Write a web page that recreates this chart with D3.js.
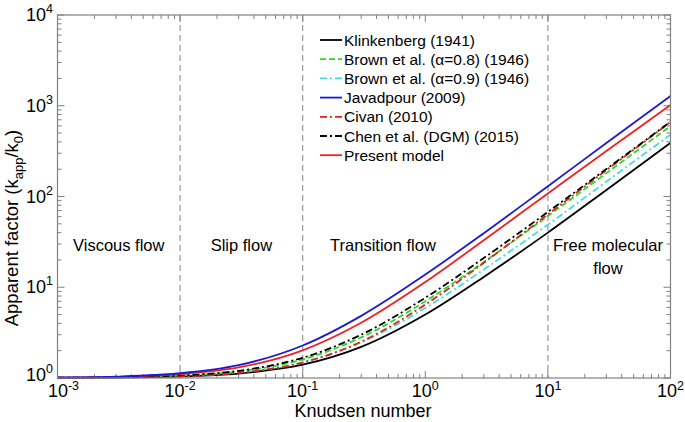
<!DOCTYPE html>
<html><head><meta charset="utf-8">
<script src="https://cdn.jsdelivr.net/npm/d3@7"></script>
<style>body{margin:0;background:#fff}svg{display:block;font-family:Arial,"Liberation Sans",sans-serif}</style>
</head><body><svg id="c" width="685" height="422"></svg>
<script>
const knudsen = [0.001,0.003,0.01,0.03,0.1,0.3,1,3,10,30,100];
const klinkenberg = [1.004,1.012,1.04,1.12,1.4,2.2,5,13,40,118,390];
const brown08 = [1.006,1.018,1.06,1.18,1.6,2.8,7,19,61,181,598];
const brown09 = [1.005,1.015,1.049,1.147,1.49,2.47,5.9,15.7,49,146,480];
const javadpour = [1.013,1.038,1.128,1.384,2.28,4.84,13.8,39.4,130,388,1280];
const civan = [1.004,1.013,1.045,1.139,1.48,2.51,6.44,18.6,63.6,195,660];
const chen = [1.007,1.02,1.067,1.2,1.67,3.0,7.66,21,67.6,201,667];
const present = [1.01,1.031,1.102,1.306,2.02,4.06,11.4,33,108,318,1019];
const seriesNames = ["Klinkenberg (1941)","Brown et al. (\u03b1=0.8) (1946)","Brown et al. (\u03b1=0.9) (1946)","Javadpour (2009)","Civan (2010)","Chen et al. (DGM) (2015)","Present model"];
const xTickExps = [-3,-2,-1,0,1,2];
const yTickExps = [0,1,2,3,4];
const regionLines = [0.01,0.1,10];
const regionLabels = [["Viscous flow"],["Slip flow"],["Transition flow"],["Free molecular","flow"]];
const regionLabelKn = [0.00316,0.0316,0.23,100];

const series = [
 {name:seriesNames[0], v:klinkenberg, color:"#000000", dash:null},
 {name:seriesNames[1], v:brown08, color:"#22dd22", dash:"6,3"},
 {name:seriesNames[2], v:brown09, color:"#44dddd", dash:"7,3,2,3"},
 {name:seriesNames[3], v:javadpour, color:"#1a1ad6", dash:null},
 {name:seriesNames[4], v:civan, color:"#dd2222", dash:"7,3,2,3"},
 {name:seriesNames[5], v:chen, color:"#000000", dash:"7,3,2,3"},
 {name:seriesNames[6], v:present, color:"#ee2222", dash:null}
];

const svg = d3.select("#c");
const L=57.5, R=670.5, T=15, B=378;
const x = d3.scaleLog().domain([1e-3,1e2]).range([L,R]);
const y = d3.scaleLog().domain([1,1e4]).range([B,T]);
const axisCol = "#808080";

svg.selectAll("line.reg").data(regionLines).enter().append("line")
 .attr("x1",d=>x(d)).attr("x2",d=>x(d)).attr("y1",T).attr("y2",B)
 .attr("stroke","#999").attr("stroke-width",1.2).attr("stroke-dasharray","6,4");

function minorVals(lo, hi){
  const out=[];
  for(let e=lo;e<hi;e++) for(let m=2;m<=9;m++) out.push(m*Math.pow(10,e));
  return out;
}
const xMinor = minorVals(-3,2), yMinor = minorVals(0,4);
const xMajor = xTickExps.map(e=>Math.pow(10,e)), yMajor = yTickExps.map(e=>Math.pow(10,e));
const g = svg.append("g").attr("stroke",axisCol).attr("stroke-width",1);
function xt(vals,len){
  vals.forEach(v=>{
    g.append("line").attr("x1",x(v)).attr("x2",x(v)).attr("y1",B).attr("y2",B-len);
    g.append("line").attr("x1",x(v)).attr("x2",x(v)).attr("y1",T).attr("y2",T+len);
  });
}
function yt(vals,len){
  vals.forEach(v=>{
    g.append("line").attr("y1",y(v)).attr("y2",y(v)).attr("x1",L).attr("x2",L+len);
    g.append("line").attr("y1",y(v)).attr("y2",y(v)).attr("x1",R).attr("x2",R-len);
  });
}
xt(xMinor,4); xt(xMajor,7); yt(yMinor,4); yt(yMajor,7);

const line = d3.line().x((d,i)=>x(knudsen[i])).y(d=>y(d)).curve(d3.curveMonotoneX);
const order = [0,2,1,4,5,6,3];
order.forEach(k=>{
  const s=series[k];
  svg.append("path").attr("d",line(s.v)).attr("fill","none").attr("stroke",s.color)
   .attr("stroke-width",1.8).attr("stroke-dasharray",s.dash);
});

svg.append("rect").attr("x",L).attr("y",T).attr("width",R-L).attr("height",B-T)
 .attr("fill","none").attr("stroke",axisCol).attr("stroke-width",1.2);

xTickExps.forEach(e=>{
  const t=svg.append("text").attr("x",x(Math.pow(10,e))+(e===-3?6:0)).attr("y",397).attr("text-anchor","middle")
   .attr("font-size",18).attr("fill","#000");
  t.append("tspan").text("10");
  t.append("tspan").attr("dy",-7).attr("font-size",12.5).text(e);
});
yTickExps.forEach(e=>{
  const t=svg.append("text").attr("x",53).attr("y",y(Math.pow(10,e))+(e===0?3:6)).attr("text-anchor","end")
   .attr("font-size",18).attr("fill","#000");
  t.append("tspan").text("10");
  t.append("tspan").attr("dy",-8).attr("font-size",12.5).text(e);
});

svg.append("text").attr("x",363).attr("y",417).attr("text-anchor","middle").attr("font-size",18).text("Knudsen number");
const yl = svg.append("text").attr("transform","translate(18,228) rotate(-90)").attr("text-anchor","middle").attr("font-size",18.5);
yl.append("tspan").text("Apparent factor (k");
yl.append("tspan").attr("dy",5).attr("font-size",13).text("app");
yl.append("tspan").attr("dy",-5).text("/k");
yl.append("tspan").attr("dy",5).attr("font-size",13).text("0");
yl.append("tspan").attr("dy",-5).text(")");

regionLabels.forEach((lines,i)=>{
  const cx = i===3 ? 608 : (i===2 ? 383 : x(regionLabelKn[i]));
  lines.forEach((s,j)=>{
    svg.append("text").attr("x",cx).attr("y",251+j*23).attr("text-anchor","middle").attr("font-size",16.5).text(s);
  });
});

series.forEach((s,i)=>{
  const ly = 40+i*19.2;
  svg.append("line").attr("x1",320).attr("x2",342).attr("y1",ly).attr("y2",ly)
   .attr("stroke",s.color).attr("stroke-width",1.8).attr("stroke-dasharray",s.dash);
  svg.append("text").attr("x",344).attr("y",ly+5.5).attr("font-size",15.5).text(s.name);
});
</script></body></html>
